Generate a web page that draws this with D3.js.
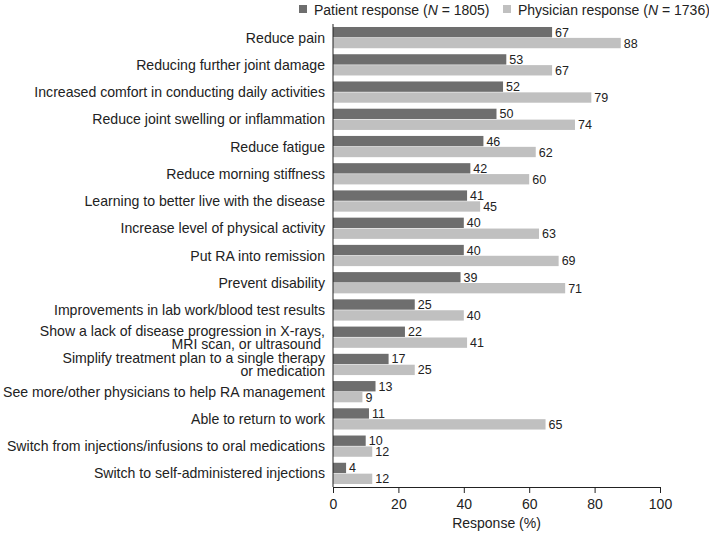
<!DOCTYPE html>
<html><head><meta charset="utf-8">
<script src="https://cdn.jsdelivr.net/npm/d3@7/dist/d3.min.js"></script>
<style>body{margin:0;background:#fff}svg{display:block}text{font-family:"Liberation Sans",Arial,Helvetica,sans-serif}</style>
</head><body><svg id="c" width="709" height="539"></svg>
<script>
const categories = [
  ["Reduce pain"],
  ["Reducing further joint damage"],
  ["Increased comfort in conducting daily activities"],
  ["Reduce joint swelling or inflammation"],
  ["Reduce fatigue"],
  ["Reduce morning stiffness"],
  ["Learning to better live with the disease"],
  ["Increase level of physical activity"],
  ["Put RA into remission"],
  ["Prevent disability"],
  ["Improvements in lab work/blood test results"],
  ["Show a lack of disease progression in X-rays,", "MRI scan, or ultrasound "],
  ["Simplify treatment plan to a single therapy", "or medication"],
  ["See more/other physicians to help RA management"],
  ["Able to return to work"],
  ["Switch from injections/infusions to oral medications"],
  ["Switch to self-administered injections"]
];
const patient = [67,53,52,50,46,42,41,40,40,39,25,22,17,13,11,10,4];
const physician = [88,67,79,74,62,60,45,63,69,71,40,41,25,9,65,12,12];
const xTicks = [0,20,40,60,80,100];
const seriesNames = ["Patient response", "Physician response"];
const seriesN = ["1805", "1736"];
const colors = ["#6e6e6e", "#c0c0c0"];

const svg = d3.select("#c");
const x = d3.scaleLinear().domain([0,100]).range([333,660]);
const y = d3.scaleBand().domain(d3.range(categories.length)).range([24,487]).paddingInner(0.22).paddingOuter(0.11);
const sub = d3.scaleBand().domain([0,1]).range([0,y.bandwidth()]).paddingInner(0.05);
const textCol = "#222";
const fs = 14;

// bars
const g = svg.append("g");
[patient, physician].forEach((vals, si) => {
  g.selectAll(".b"+si).data(vals).enter().append("rect")
    .attr("x", x(0)).attr("y", (d,i)=>y(i)+sub(si))
    .attr("width", d=>x(d)-x(0)).attr("height", sub.bandwidth())
    .attr("fill", colors[si]);
  g.selectAll(".t"+si).data(vals).enter().append("text")
    .attr("x", d=>x(d)+3).attr("y", (d,i)=>y(i)+sub(si)+sub.bandwidth()/2)
    .attr("dy","0.36em").attr("font-size", 12.5).attr("fill", textCol).text(d=>d);
});

// category labels
const lab = svg.append("g").attr("font-size", 14.1).attr("fill", textCol).attr("text-anchor","end");
categories.forEach((lines,i)=>{
  const cy = y(i)+y.bandwidth()/2;
  const lh = 13.4;
  lines.forEach((l,j)=>{
    lab.append("text").attr("x", 325).attr("y", cy + (j-(lines.length-1)/2)*lh).attr("dy","0.36em")
      .style("white-space","pre").text(l);
  });
});

// axes
const ax = svg.append("g").attr("transform","translate(0,487)")
  .call(d3.axisBottom(x).tickValues(xTicks).tickSize(6).tickSizeOuter(0));
ax.select(".domain").attr("stroke","#222");
ax.selectAll(".tick line").attr("stroke","#222");
ax.selectAll(".tick text").attr("font-size",fs).attr("fill",textCol).attr("dy","0.95em").style("font-family",'"Liberation Sans",Arial,sans-serif');
svg.append("line").attr("x1",x(0)).attr("x2",x(0)).attr("y1",24).attr("y2",487).attr("stroke","#222");

svg.append("text").attr("x",(x(0)+x(100))/2).attr("y",528).attr("text-anchor","middle")
  .attr("font-size",fs).attr("fill",textCol).text("Response (%)");

// legend
const leg = svg.append("g").attr("font-size",fs).attr("fill",textCol);
const legX = [299, 503];
seriesNames.forEach((n,i)=>{
  leg.append("rect").attr("x",legX[i]).attr("y",5).attr("width",8).attr("height",8).attr("fill",colors[i]);
  const t = leg.append("text").attr("x",legX[i]+15).attr("y",9.5).attr("dy","0.36em");
  t.append("tspan").text(n+" (");
  t.append("tspan").attr("font-style","italic").text("N");
  t.append("tspan").text(" = "+seriesN[i]+")");
});
</script></body></html>
